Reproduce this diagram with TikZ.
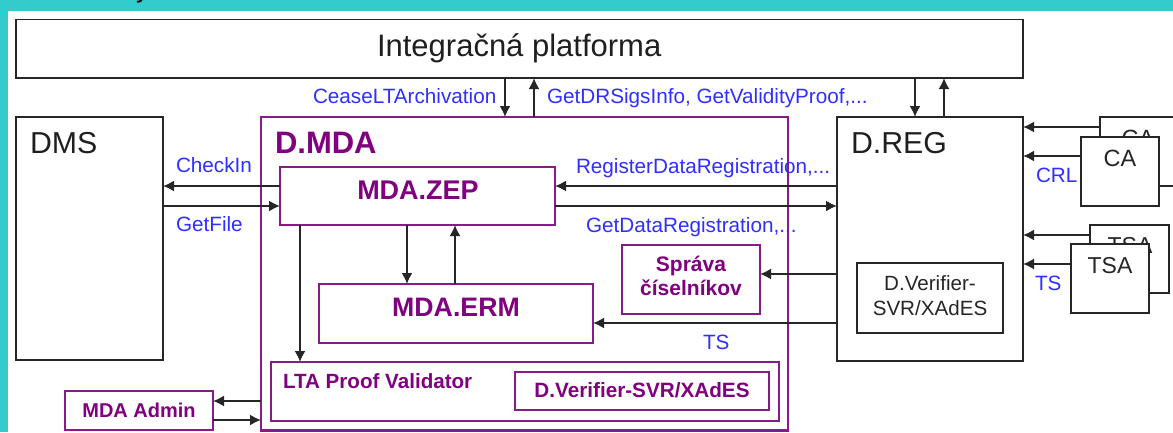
\documentclass[tikz,border=0pt]{standalone}
\usepackage{fontspec}
\setmainfont{Liberation Sans}
\usetikzlibrary{arrows.meta}
\definecolor{teal1}{HTML}{33CCCC}
\definecolor{pur}{HTML}{800080}
\definecolor{purl}{HTML}{8A1A8A}
\definecolor{blu}{HTML}{2F2FFF}
\definecolor{ink}{HTML}{262626}
\newcommand{\fs}[1]{\fontsize{#1}{#1}\selectfont}
\newcommand{\bx}[6]{\node[#1,minimum width={(#5-#3)*1pt},minimum height={(#6-#4)*1pt}] (#2) at ({(#3+#5)/2},{(#4+#6)/2}) {};}
\tikzset{
 bk/.style={draw=ink,line width=1.8pt,fill=white,rectangle,inner sep=0pt,outer sep=0pt},
 pb/.style={draw=purl,line width=2.4pt,fill=white,rectangle,inner sep=0pt,outer sep=0pt},
 arr/.style={draw=ink,line width=1.8pt,-{Latex[length=11pt,width=11pt]}},
 lbl/.style={inner sep=0pt,outer sep=0pt,anchor=base west,text=blu},
 blk/.style={inner sep=0pt,outer sep=0pt,anchor=base west,text=black!88},
 ptx/.style={inner sep=0pt,outer sep=0pt,anchor=base,text=pur,font=\bfseries},
 ctx/.style={inner sep=0pt,outer sep=0pt,anchor=base,text=black!85},
}
\begin{document}
\begin{tikzpicture}[x=1pt,y=-1pt]
\useasboundingbox (0,0) rectangle (1173,432);
\clip (0,0) rectangle (1173,432);
\fill[teal1] (0,0) rectangle (1173,432);
\fill[white] (8,11) rectangle (1173,432);
\node[blk,text=black,font=\fs{27}] (cuttitle) at (136,-2.5) {y};

% boxes
\bx{bk}{plat}{16}{19.5}{1023}{78}
\bx{bk}{dms}{16}{117}{163}{360}
\bx{pb}{mda}{261}{117}{788}{430.5}
\bx{pb}{zep}{280}{167}{555}{225}
\bx{pb}{erm}{319}{284}{593}{343}
\bx{pb}{sprava}{622}{245}{760}{314}
\bx{pb}{lta}{271}{362}{779}{421}
\bx{pb}{ver}{515}{372}{769}{410}
\bx{pb}{admin}{65}{391}{213}{430}
\bx{bk}{reg}{837}{117}{1023}{361}
\bx{bk}{dver}{857}{263}{1003}{333}
\bx{bk}{caback}{1100}{117}{1200}{186}
\node[ctx,font=\fs{23.5}] (catb) at (1138,146) {CA};
\bx{bk}{cafront}{1081}{137}{1159}{206}
\bx{bk}{tsaback}{1090}{225}{1169}{293}
\node[ctx,font=\fs{23}] (tsatb) at (1130,253) {TSA};
\bx{bk}{tsafront}{1071}{244}{1149}{313}

% connectors
\draw[arr] (plat.south -| 505,0) -- (mda.north -| 505,0);
\draw[arr] (mda.north -| 534,0) -- (plat.south -| 534,0);
\draw[arr] (plat.south -| 915,0) -- (reg.north -| 915,0);
\draw[arr] (reg.north -| 944,0) -- (plat.south -| 944,0);
\draw[arr] (zep.west |- 0,186) -- (dms.east |- 0,186);
\draw[arr] (dms.east |- 0,206) -- (zep.west |- 0,206);
\draw[arr] (reg.west |- 0,186) -- (zep.east |- 0,186);
\draw[arr] (zep.east |- 0,206) -- (reg.west |- 0,206);
\draw[arr] (zep.south -| 300,0) -- (lta.north -| 300,0);
\draw[arr] (zep.south -| 407,0) -- (erm.north -| 407,0);
\draw[arr] (erm.north -| 455,0) -- (zep.south -| 455,0);
\draw[arr] (reg.west |- 0,274) -- (sprava.east |- 0,274);
\draw[arr] (reg.west |- 0,323) -- (erm.east |- 0,323);
\draw[arr] (caback.west |- 0,127) -- (reg.east |- 0,127);
\draw[arr] (cafront.west |- 0,156) -- (reg.east |- 0,156);
\draw[arr] (tsaback.west |- 0,235) -- (reg.east |- 0,235);
\draw[arr] (tsafront.west |- 0,264) -- (reg.east |- 0,264);
\draw[arr] (mda.west |- 0,401) -- (admin.east |- 0,401);
\draw[arr] (admin.east |- 0,420) -- (mda.west |- 0,420);

% black text
\node[blk,font=\fs{31}] (tplat) at (377,56) {Integračná platforma};
\node[blk,font=\fs{30.3}] (tdms) at (30,153) {DMS};
\node[blk,font=\fs{30.3}] (treg) at (851,153) {D.REG};
\node[ctx,font=\fs{20.6},align=center] (tdv1) at (930,290) {D.Verifier-};
\node[ctx,font=\fs{20.6},align=center] (tdv2) at (930,315) {SVR/XAdES};
\node[ctx,font=\fs{23.5}] (tca) at (1120,166) {CA};
\node[ctx,font=\fs{23}] (ttsa) at (1110,273) {TSA};

% purple text
\node[ptx,font=\fs{31}\bfseries,anchor=base west] (tmda) at (275,153) {D.MDA};
\node[ptx,font=\fs{27}\bfseries] (tzep) at (418,199) {MDA.ZEP};
\node[ptx,font=\fs{26.7}\bfseries] (term) at (456,316) {MDA.ERM};
\node[ptx,font=\fs{20.6}\bfseries,anchor=base west] (tlta) at (283,388) {LTA Proof Validator};
\node[ptx,font=\fs{20.7}\bfseries] (tver) at (642,397) {D.Verifier-SVR/XAdES};
\node[ptx,font=\fs{21}\bfseries] (tsp1) at (691,271) {Správa};
\node[ptx,font=\fs{21}\bfseries] (tsp2) at (691,295) {číselníkov};
\node[ptx,font=\fs{20}\bfseries] (tadm) at (139,417) {MDA Admin};

% blue labels
\node[lbl,font=\fs{20.7}] (l1) at (313,103) {CeaseLTArchivation};
\node[lbl,font=\fs{20.7}] (l2) at (547,103) {GetDRSigsInfo, GetValidityProof,...};
\node[lbl,font=\fs{20.7}] (l3) at (176,172) {CheckIn};
\node[lbl,font=\fs{20.7}] (l4) at (176,231) {GetFile};
\node[lbl,font=\fs{20.7}] (l5) at (576,173) {RegisterDataRegistration,...};
\node[lbl,font=\fs{20.7}] (l6) at (586,232) {GetDataRegistration,...};
\node[lbl,font=\fs{20.7}] (l7) at (1036,182) {CRL};
\node[lbl,font=\fs{20.7}] (l8) at (1035,290) {TS};
\node[lbl,font=\fs{20.7}] (l9) at (703,349) {TS};
\end{tikzpicture}
\end{document}
